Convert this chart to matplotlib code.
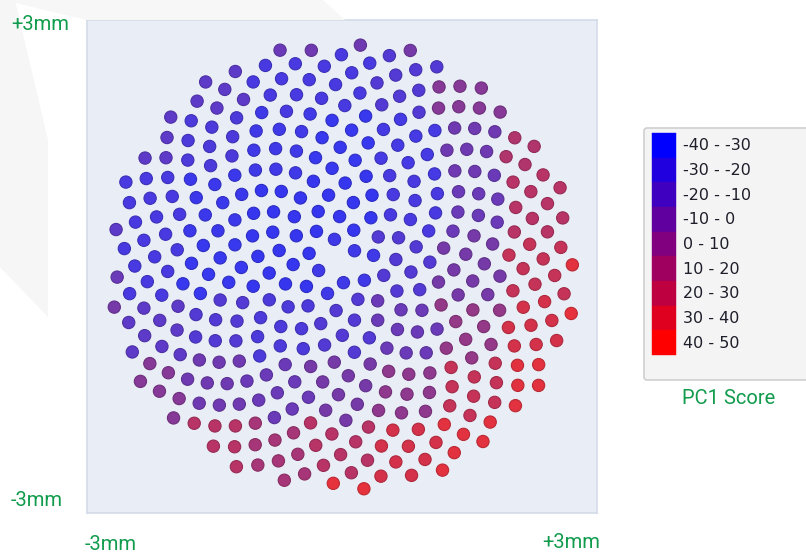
import numpy as np
import matplotlib
matplotlib.use("Agg")
from matplotlib import pyplot as plt
from matplotlib.colors import LinearSegmentedColormap
from matplotlib.patches import Polygon, Rectangle, FancyBboxPatch

# spot layout (sunflower array on the sample)
n_spots = 390
n_skip = 2          # empty spots at the centre
array_radius = 2.76
golden_angle = np.pi * (3 - np.sqrt(5))

# PC1 score on a 0.75 mm grid (rows: y=+3 .. -3, cols: x=-3 .. +3)
grid_x = [-3, -2.25, -1.5, -0.75, 0, 0.75, 1.5, 2.25, 3]
grid_y = [3, 2.25, 1.5, 0.75, 0, -0.75, -1.5, -2.25, -3]
score_grid = [
    [-5, -5, -5, -5, -3, 0, 10, 20, 25],
    [-8, -8, -10, -20, -20, -15, 5, 20, 30],
    [-8, -10, -18, -25, -30, -22, -3, 18, 30],
    [-10, -20, -28, -32, -32, -20, -5, 20, 35],
    [-5, -20, -30, -32, -25, -15, 0, 25, 38],
    [0, -10, -15, -18, -15, -5, 10, 30, 40],
    [10, 5, -3, -5, 0, 8, 25, 38, 45],
    [20, 20, 20, 15, 20, 30, 38, 42, 45],
    [30, 30, 32, 35, 40, 42, 45, 45, 45],
]

# legend bins
bin_labels = ['-40 - -30', '-30 - -20', '-20 - -10', '-10 - 0', '0 - 10',
              '10 - 20', '20 - 30', '30 - 40', '40 - 50']
bin_colors = ['#0000FF', '#2000DF', '#4000BF', '#60009F', '#80007F',
              '#9F0060', '#BF0040', '#DF0020', '#FF0000']

# colour of the spots as rendered
dot_stops = [(-40, '#3030F4'), (-30, '#3838EE'), (-20, '#483AE0'), (-10, '#5E3AC8'),
             (0, '#763AA8'), (10, '#943888'), (20, '#B83466'), (30, '#D4324A'),
             (40, '#E6323D'), (50, '#EC2D36')]

green = '#119B4C'

idx = np.arange(n_skip, n_spots + n_skip)
r = array_radius * np.sqrt(idx / (n_spots + n_skip - 1))
th = idx * golden_angle
xs = r * np.cos(th)
ys = r * np.sin(th)

sg = np.array(score_grid, dtype=float)
ci = np.clip(np.rint((xs + 3) / 0.75).astype(int), 0, 8)
ri = np.clip(np.rint((3 - ys) / 0.75).astype(int), 0, 8)
scores = sg[ri, ci]

lo, hi = dot_stops[0][0], dot_stops[-1][0]
cmap = LinearSegmentedColormap.from_list(
    'pc1', [((v - lo) / (hi - lo), c) for v, c in dot_stops])
face = cmap((scores - lo) / (hi - lo))
edge = face.copy()
edge[:, :3] *= 0.82

fig = plt.figure(figsize=(8.06, 5.54), dpi=100)
fig.patch.set_facecolor('white')
W, H = 806, 554

def fx(p):
    return [(x / W, 1 - y / H) for x, y in p]

fig.patches.append(Polygon(fx([(0, 0), (15, 0), (48, 140), (48, 317), (0, 267)]),
                           closed=True, transform=fig.transFigure, fc='#F6F6F6', ec='none', zorder=0))
fig.patches.append(Polygon(fx([(15, 0), (323, 0), (345, 20), (87, 20), (15, 3)]),
                           closed=True, transform=fig.transFigure, fc='#F7F7F7', ec='none', zorder=0))

ax = fig.add_axes([87 / W, 1 - 513 / H, 510 / W, 493 / H])
ax.set_facecolor('#E9EEF6')
ax.scatter(xs, ys, s=78, c=face, edgecolors=edge, linewidths=0.8, zorder=3)
ax.set_xlim(-3, 3)
ax.set_ylim(-3, 3)
ax.set_xticks([])
ax.set_yticks([])
for sp in ax.spines.values():
    sp.set_color('#D3DBE8')
    sp.set_linewidth(1.2)

lab = dict(color=green, fontsize=14.5, family='Roboto')
fig.text(11 / W, 1 - 24 / H, '+3mm', va='center', ha='left', **lab)
fig.text(11 / W, 1 - 500 / H, '-3mm', va='center', ha='left', **lab)
fig.text(85 / W, 1 - 545 / H, '-3mm', va='center', ha='left', **lab)
fig.text(600 / W, 1 - 543 / H, '+3mm', va='center', ha='right', **lab)

# legend box
lax = fig.add_axes([643 / W, 1 - 381 / H, 170 / W, 254 / H])
lax.set_xlim(0, 170)
lax.set_ylim(254, 0)
lax.axis('off')
lax.add_patch(FancyBboxPatch((1, 1), 180, 252, boxstyle='round,pad=0,rounding_size=3',
                             fc='#F4F4F4', ec='#CFCFCF', lw=1.2, clip_on=False))
sw_h = 222 / len(bin_labels)
for i, (lb, col) in enumerate(zip(bin_labels, bin_colors)):
    y0 = 6 + i * sw_h
    lax.add_patch(Rectangle((9, y0), 24, sw_h, fc=col, ec=col, lw=0.3))
    lax.text(40, y0 + sw_h / 2 + 0.5, lb, va='center', ha='left', fontsize=11.5,
             color='#1E1E2A', family='DejaVu Sans')

fig.text(729 / W, 1 - 398 / H, 'PC1 Score', va='center', ha='center',
         color=green, fontsize=14.5, family='Roboto')

fig.savefig('out.png', dpi=100)
